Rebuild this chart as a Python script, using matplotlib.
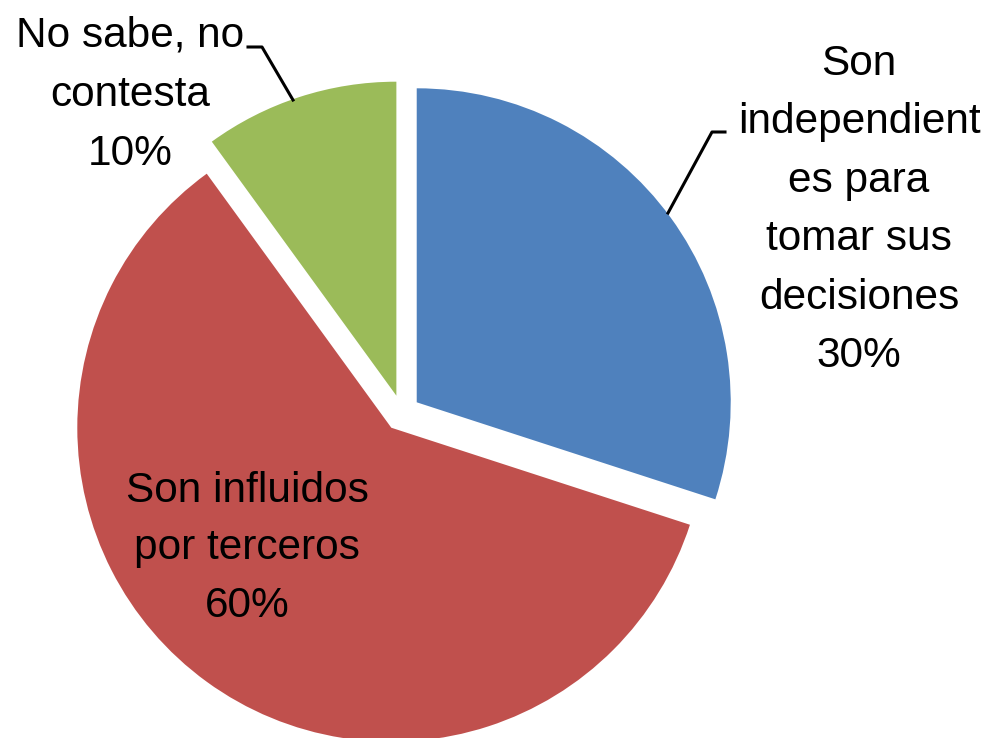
import matplotlib
matplotlib.use('Agg')
import matplotlib.pyplot as plt

# data
categories = ['Son independientes para tomar sus decisiones',
              'Son influidos por terceros',
              'No sabe, no contesta']
values = [30, 60, 10]
colors = ['#4F81BD', '#C0504D', '#9BBB59']
label_lines = [['Son', 'independient', 'es para', 'tomar sus', 'decisiones'],
               ['Son influidos', 'por terceros'],
               ['No sabe, no', 'contesta']]

W, H = 999, 738
fig = plt.figure(figsize=(W / 100, H / 100), dpi=100)
ax = fig.add_axes([0, 0, 1, 1])

# pie in pixel-like data coordinates (y up)
ax.pie(values, colors=colors, startangle=90, counterclock=False,
       center=(402, H - 413), radius=314, explode=[18.2] * 3,
       wedgeprops=dict(linewidth=0))

ax.set_xlim(0, W)
ax.set_ylim(0, H)
ax.set_aspect('equal')
ax.axis('off')

font = dict(family=['Liberation Sans', 'DejaVu Sans'], fontsize=30.5, color='black')

# label blocks: x centre, first baseline (pixels from top), line step
label_pos = [(859, 75, 58.4), (247, 502, 57.5), (130, 47, 59)]
for lines, v, (xc, y0, step) in zip(label_lines, values, label_pos):
    for k, s in enumerate(lines + ['%d%%' % v]):
        ax.text(xc, H - (y0 + k * step), s, ha='center', va='baseline', **font)

# leader lines
ax.plot([725, 712, 668], [H - 132, H - 132, H - 213], color='black', lw=2.2)
ax.plot([248, 262, 293], [H - 47, H - 47, H - 100], color='black', lw=2.2)

fig.savefig('out.png', dpi=100)
